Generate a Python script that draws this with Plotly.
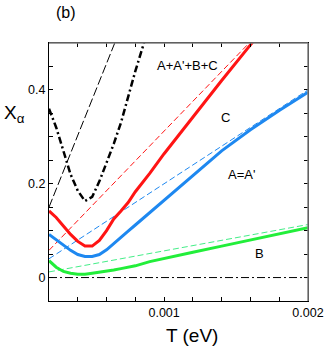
import plotly.graph_objects as go

# temperatures (eV) used for the computed curves
T = [0.0002, 0.00025, 0.0003, 0.00035, 0.0004, 0.00045, 0.0005, 0.00055,
     0.0006, 0.00065, 0.0007, 0.00075, 0.0008, 0.0009, 0.001, 0.0012,
     0.0014, 0.0016, 0.0018, 0.002]

x_C = [0.142, 0.128, 0.110, 0.092, 0.077, 0.067, 0.067, 0.079,
       0.100, 0.125, 0.142, 0.160, 0.183, 0.222, 0.264, 0.343,
       0.420, 0.496, 0.572, 0.648]
x_A = [0.092, 0.080, 0.068, 0.058, 0.049, 0.045, 0.045, 0.049,
       0.059, 0.073, 0.085, 0.099, 0.112, 0.138, 0.165, 0.217,
       0.270, 0.315, 0.356, 0.395]
x_B = [0.036, 0.022, 0.013, 0.009, 0.007, 0.007, 0.009, 0.011,
       0.013, 0.016, 0.019, 0.022, 0.025, 0.034, 0.041, 0.054,
       0.067, 0.080, 0.093, 0.106]

# total A+A'+B+C (dash-dot)
T_tot = [0.0002, 0.00025, 0.0003, 0.00035, 0.0004, 0.00045, 0.0005,
         0.00055, 0.0006, 0.00065, 0.0007, 0.00075, 0.0008, 0.00086]
x_tot = [0.36, 0.32, 0.27, 0.22, 0.185, 0.163, 0.172,
         0.205, 0.245, 0.285, 0.33, 0.385, 0.44, 0.50]

# asymptotic straight lines (dashed)
T_lin = [0.0002, 0.002]
lin_C = [0.058, 0.630]
lin_A = [0.040, 0.400]
lin_B = [0.012, 0.113]
T_lin_tot = [0.0002, 0.00067]
lin_tot = [0.150, 0.510]
zero = [0.0, 0.0]

RED = "#ff1414"
BLUE = "#1e88f0"
GREEN = "#22ee3a"

fig = go.Figure()


def add(x, y, color, width, dash="solid"):
    fig.add_trace(go.Scatter(x=x, y=y, mode="lines", showlegend=False,
                             hoverinfo="skip",
                             line=dict(color=color, width=width, dash=dash)))


add(T_lin, zero, "black", 1, "8px,3px,2px,3px")
add(T_lin, lin_B, "#44ee88", 1, "6px,3px")
add(T_lin, lin_A, BLUE, 1, "6px,3px")
add(T_lin, lin_C, RED, 1, "6px,3px")
add(T_lin_tot, lin_tot, "black", 1, "9px,3px")
add(T, x_B, GREEN, 3)
add(T, x_A, BLUE, 3)
add(T, x_C, RED, 3)
add(T_tot, x_tot, "black", 2.5, "7px,3px,2px,3px")

labels = [("A+A'+B+C", 0.00116, 0.453), ("C", 0.00143, 0.342),
          ("A=A'", 0.00154, 0.219), ("B", 0.00166, 0.052)]
for txt, xx, yy in labels:
    fig.add_annotation(x=xx, y=yy, text=txt, showarrow=False,
                       font=dict(size=13, color="black"))

fig.add_annotation(xref="paper", yref="paper", x=-0.18, y=0.725,
                   xanchor="left", yanchor="middle", showarrow=False,
                   text="X<sub>α</sub>", font=dict(size=19, color="black"))
fig.add_annotation(xref="paper", yref="paper", x=0.066, y=1.12,
                   xanchor="center", yanchor="middle",
                   showarrow=False, text="(b)",
                   font=dict(size=16, color="black"))
fig.add_annotation(xref="paper", yref="paper", x=0.552, y=-0.132,
                   xanchor="center", yanchor="middle",
                   showarrow=False, text="T (eV)",
                   font=dict(size=19, color="black"))

# grey top and right frame
fig.add_shape(type="line", xref="paper", yref="paper", x0=0, x1=1, y0=1, y1=1,
              line=dict(color="#808080", width=1.5))
fig.add_shape(type="line", xref="paper", yref="paper", x0=1, x1=1, y0=0, y1=1,
              line=dict(color="#808080", width=1.5))

fig.update_layout(
    width=327,
    height=351,
    margin=dict(l=49, r=19, t=43, b=50),
    paper_bgcolor="white",
    plot_bgcolor="white",
    font=dict(family="Liberation Sans, Arial, sans-serif", color="black"),
    xaxis=dict(
        range=[0.0002, 0.002],
        tickvals=[0.001, 0.002],
        ticktext=["0.001", "0.002"],
        ticks="inside", ticklen=4, tickcolor="black",
        minor=dict(dtick=0.0002, tick0=0, ticks="inside", ticklen=4,
                   tickcolor="black"),
        showline=True, linecolor="black", linewidth=1.2, mirror="ticks",
        showgrid=False, zeroline=False, automargin=False,
        tickfont=dict(size=12.5),
    ),
    yaxis=dict(
        range=[-0.05, 0.5],
        tickvals=[0, 0.2, 0.4],
        ticktext=["0", "0.2", "0.4"],
        ticks="inside", ticklen=4, tickcolor="black",
        minor=dict(dtick=0.05, tick0=0, ticks="inside", ticklen=4,
                   tickcolor="black"),
        showline=True, linecolor="black", linewidth=1.2, mirror="ticks",
        showgrid=False, zeroline=False, automargin=False,
        tickfont=dict(size=12.5),
    ),
)

fig.write_html("out.html", config={"displayModeBar": False},
               post_script="document.body.style.margin='0';")
